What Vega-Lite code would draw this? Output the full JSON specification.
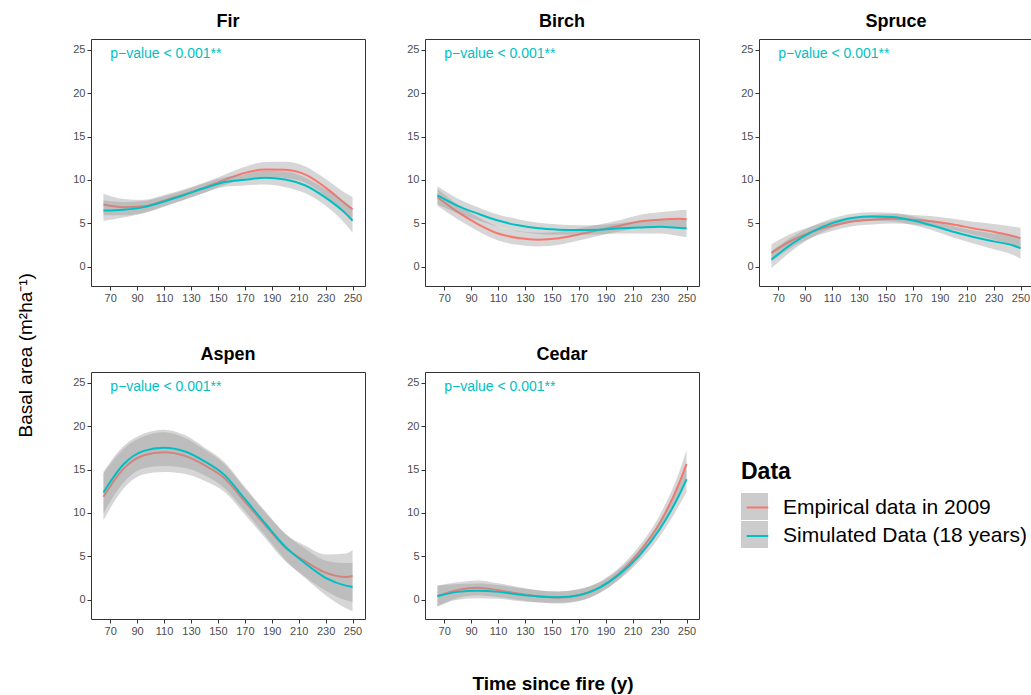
{
  "$schema": "https://vega.github.io/schema/vega-lite/v6.json",
  "padding": {"left": 17, "top": 12, "right": 0, "bottom": 5},
  "data": {"values": [
    {"Species":"Fir","Data":"Empirical data in 2009","Time":65,"Fit":7.15,"Lower":5.9,"Upper":8.4},
    {"Species":"Fir","Data":"Empirical data in 2009","Time":80,"Fit":6.85,"Lower":5.9,"Upper":7.8},
    {"Species":"Fir","Data":"Empirical data in 2009","Time":95,"Fit":6.95,"Lower":6.2,"Upper":7.7},
    {"Species":"Fir","Data":"Empirical data in 2009","Time":110,"Fit":7.6,"Lower":6.95,"Upper":8.25},
    {"Species":"Fir","Data":"Empirical data in 2009","Time":125,"Fit":8.3,"Lower":7.7,"Upper":8.9},
    {"Species":"Fir","Data":"Empirical data in 2009","Time":140,"Fit":9.1,"Lower":8.5,"Upper":9.7},
    {"Species":"Fir","Data":"Empirical data in 2009","Time":155,"Fit":10.0,"Lower":9.4,"Upper":10.6},
    {"Species":"Fir","Data":"Empirical data in 2009","Time":170,"Fit":10.8,"Lower":10.1,"Upper":11.5},
    {"Species":"Fir","Data":"Empirical data in 2009","Time":185,"Fit":11.2,"Lower":10.35,"Upper":12.05},
    {"Species":"Fir","Data":"Empirical data in 2009","Time":200,"Fit":11.15,"Lower":10.2,"Upper":12.1},
    {"Species":"Fir","Data":"Empirical data in 2009","Time":215,"Fit":10.6,"Lower":9.65,"Upper":11.55},
    {"Species":"Fir","Data":"Empirical data in 2009","Time":230,"Fit":9.1,"Lower":8.1,"Upper":10.1},
    {"Species":"Fir","Data":"Empirical data in 2009","Time":245,"Fit":7.2,"Lower":5.95,"Upper":8.45},
    {"Species":"Fir","Data":"Empirical data in 2009","Time":250,"Fit":6.6,"Lower":5.2,"Upper":8.0},
    {"Species":"Fir","Data":"Simulated Data (18 years)","Time":65,"Fit":6.45,"Lower":5.25,"Upper":7.65},
    {"Species":"Fir","Data":"Simulated Data (18 years)","Time":80,"Fit":6.55,"Lower":5.65,"Upper":7.45},
    {"Species":"Fir","Data":"Simulated Data (18 years)","Time":95,"Fit":6.85,"Lower":6.15,"Upper":7.55},
    {"Species":"Fir","Data":"Simulated Data (18 years)","Time":110,"Fit":7.5,"Lower":6.9,"Upper":8.1},
    {"Species":"Fir","Data":"Simulated Data (18 years)","Time":125,"Fit":8.25,"Lower":7.7,"Upper":8.8},
    {"Species":"Fir","Data":"Simulated Data (18 years)","Time":140,"Fit":9.05,"Lower":8.5,"Upper":9.6},
    {"Species":"Fir","Data":"Simulated Data (18 years)","Time":155,"Fit":9.75,"Lower":9.2,"Upper":10.3},
    {"Species":"Fir","Data":"Simulated Data (18 years)","Time":170,"Fit":10.0,"Lower":9.35,"Upper":10.65},
    {"Species":"Fir","Data":"Simulated Data (18 years)","Time":185,"Fit":10.25,"Lower":9.45,"Upper":11.05},
    {"Species":"Fir","Data":"Simulated Data (18 years)","Time":200,"Fit":10.05,"Lower":9.15,"Upper":10.95},
    {"Species":"Fir","Data":"Simulated Data (18 years)","Time":215,"Fit":9.35,"Lower":8.45,"Upper":10.25},
    {"Species":"Fir","Data":"Simulated Data (18 years)","Time":230,"Fit":7.95,"Lower":7.0,"Upper":8.9},
    {"Species":"Fir","Data":"Simulated Data (18 years)","Time":245,"Fit":6.1,"Lower":4.85,"Upper":7.35},
    {"Species":"Fir","Data":"Simulated Data (18 years)","Time":250,"Fit":5.3,"Lower":3.9,"Upper":6.7},

    {"Species":"Birch","Data":"Empirical data in 2009","Time":65,"Fit":8.0,"Lower":7.05,"Upper":8.95},
    {"Species":"Birch","Data":"Empirical data in 2009","Time":80,"Fit":6.3,"Lower":5.45,"Upper":7.15},
    {"Species":"Birch","Data":"Empirical data in 2009","Time":95,"Fit":4.9,"Lower":4.1,"Upper":5.7},
    {"Species":"Birch","Data":"Empirical data in 2009","Time":110,"Fit":3.8,"Lower":3.0,"Upper":4.6},
    {"Species":"Birch","Data":"Empirical data in 2009","Time":125,"Fit":3.3,"Lower":2.5,"Upper":4.1},
    {"Species":"Birch","Data":"Empirical data in 2009","Time":140,"Fit":3.1,"Lower":2.3,"Upper":3.9},
    {"Species":"Birch","Data":"Empirical data in 2009","Time":155,"Fit":3.25,"Lower":2.5,"Upper":4.0},
    {"Species":"Birch","Data":"Empirical data in 2009","Time":170,"Fit":3.7,"Lower":3.0,"Upper":4.4},
    {"Species":"Birch","Data":"Empirical data in 2009","Time":185,"Fit":4.2,"Lower":3.55,"Upper":4.85},
    {"Species":"Birch","Data":"Empirical data in 2009","Time":200,"Fit":4.7,"Lower":4.05,"Upper":5.35},
    {"Species":"Birch","Data":"Empirical data in 2009","Time":215,"Fit":5.2,"Lower":4.45,"Upper":5.95},
    {"Species":"Birch","Data":"Empirical data in 2009","Time":230,"Fit":5.4,"Lower":4.55,"Upper":6.25},
    {"Species":"Birch","Data":"Empirical data in 2009","Time":245,"Fit":5.5,"Lower":4.5,"Upper":6.5},
    {"Species":"Birch","Data":"Empirical data in 2009","Time":250,"Fit":5.45,"Lower":4.35,"Upper":6.55},
    {"Species":"Birch","Data":"Simulated Data (18 years)","Time":65,"Fit":8.2,"Lower":7.15,"Upper":9.25},
    {"Species":"Birch","Data":"Simulated Data (18 years)","Time":80,"Fit":7.0,"Lower":6.15,"Upper":7.85},
    {"Species":"Birch","Data":"Simulated Data (18 years)","Time":95,"Fit":6.1,"Lower":5.35,"Upper":6.85},
    {"Species":"Birch","Data":"Simulated Data (18 years)","Time":110,"Fit":5.3,"Lower":4.6,"Upper":6.0},
    {"Species":"Birch","Data":"Simulated Data (18 years)","Time":125,"Fit":4.75,"Lower":4.05,"Upper":5.45},
    {"Species":"Birch","Data":"Simulated Data (18 years)","Time":140,"Fit":4.4,"Lower":3.75,"Upper":5.05},
    {"Species":"Birch","Data":"Simulated Data (18 years)","Time":155,"Fit":4.25,"Lower":3.65,"Upper":4.85},
    {"Species":"Birch","Data":"Simulated Data (18 years)","Time":170,"Fit":4.2,"Lower":3.65,"Upper":4.75},
    {"Species":"Birch","Data":"Simulated Data (18 years)","Time":185,"Fit":4.25,"Lower":3.7,"Upper":4.8},
    {"Species":"Birch","Data":"Simulated Data (18 years)","Time":200,"Fit":4.4,"Lower":3.8,"Upper":5.0},
    {"Species":"Birch","Data":"Simulated Data (18 years)","Time":215,"Fit":4.5,"Lower":3.8,"Upper":5.2},
    {"Species":"Birch","Data":"Simulated Data (18 years)","Time":230,"Fit":4.6,"Lower":3.8,"Upper":5.4},
    {"Species":"Birch","Data":"Simulated Data (18 years)","Time":245,"Fit":4.45,"Lower":3.5,"Upper":5.4},
    {"Species":"Birch","Data":"Simulated Data (18 years)","Time":250,"Fit":4.4,"Lower":3.4,"Upper":5.4},

    {"Species":"Spruce","Data":"Empirical data in 2009","Time":65,"Fit":1.58,"Lower":0.58,"Upper":2.58},
    {"Species":"Spruce","Data":"Empirical data in 2009","Time":80,"Fit":3.0,"Lower":2.2,"Upper":3.8},
    {"Species":"Spruce","Data":"Empirical data in 2009","Time":95,"Fit":4.0,"Lower":3.35,"Upper":4.65},
    {"Species":"Spruce","Data":"Empirical data in 2009","Time":110,"Fit":4.7,"Lower":4.1,"Upper":5.3},
    {"Species":"Spruce","Data":"Empirical data in 2009","Time":125,"Fit":5.2,"Lower":4.65,"Upper":5.75},
    {"Species":"Spruce","Data":"Empirical data in 2009","Time":140,"Fit":5.4,"Lower":4.85,"Upper":5.95},
    {"Species":"Spruce","Data":"Empirical data in 2009","Time":155,"Fit":5.5,"Lower":4.95,"Upper":6.05},
    {"Species":"Spruce","Data":"Empirical data in 2009","Time":170,"Fit":5.4,"Lower":4.85,"Upper":5.95},
    {"Species":"Spruce","Data":"Empirical data in 2009","Time":185,"Fit":5.2,"Lower":4.6,"Upper":5.8},
    {"Species":"Spruce","Data":"Empirical data in 2009","Time":200,"Fit":4.85,"Lower":4.2,"Upper":5.5},
    {"Species":"Spruce","Data":"Empirical data in 2009","Time":215,"Fit":4.4,"Lower":3.65,"Upper":5.15},
    {"Species":"Spruce","Data":"Empirical data in 2009","Time":230,"Fit":4.0,"Lower":3.1,"Upper":4.9},
    {"Species":"Spruce","Data":"Empirical data in 2009","Time":245,"Fit":3.5,"Lower":2.4,"Upper":4.6},
    {"Species":"Spruce","Data":"Empirical data in 2009","Time":250,"Fit":3.27,"Lower":2.07,"Upper":4.47},
    {"Species":"Spruce","Data":"Simulated Data (18 years)","Time":65,"Fit":0.8,"Lower":-0.2,"Upper":1.8},
    {"Species":"Spruce","Data":"Simulated Data (18 years)","Time":80,"Fit":2.6,"Lower":1.8,"Upper":3.4},
    {"Species":"Spruce","Data":"Simulated Data (18 years)","Time":95,"Fit":4.0,"Lower":3.35,"Upper":4.65},
    {"Species":"Spruce","Data":"Simulated Data (18 years)","Time":110,"Fit":5.0,"Lower":4.45,"Upper":5.55},
    {"Species":"Spruce","Data":"Simulated Data (18 years)","Time":125,"Fit":5.6,"Lower":5.1,"Upper":6.1},
    {"Species":"Spruce","Data":"Simulated Data (18 years)","Time":140,"Fit":5.77,"Lower":5.27,"Upper":6.27},
    {"Species":"Spruce","Data":"Simulated Data (18 years)","Time":155,"Fit":5.7,"Lower":5.2,"Upper":6.2},
    {"Species":"Spruce","Data":"Simulated Data (18 years)","Time":170,"Fit":5.3,"Lower":4.8,"Upper":5.8},
    {"Species":"Spruce","Data":"Simulated Data (18 years)","Time":185,"Fit":4.7,"Lower":4.15,"Upper":5.25},
    {"Species":"Spruce","Data":"Simulated Data (18 years)","Time":200,"Fit":4.0,"Lower":3.35,"Upper":4.65},
    {"Species":"Spruce","Data":"Simulated Data (18 years)","Time":215,"Fit":3.4,"Lower":2.65,"Upper":4.15},
    {"Species":"Spruce","Data":"Simulated Data (18 years)","Time":230,"Fit":2.9,"Lower":2.0,"Upper":3.8},
    {"Species":"Spruce","Data":"Simulated Data (18 years)","Time":245,"Fit":2.4,"Lower":1.3,"Upper":3.5},
    {"Species":"Spruce","Data":"Simulated Data (18 years)","Time":250,"Fit":2.1,"Lower":0.9,"Upper":3.3},

    {"Species":"Aspen","Data":"Empirical data in 2009","Time":65,"Fit":11.85,"Lower":9.15,"Upper":14.55},
    {"Species":"Aspen","Data":"Empirical data in 2009","Time":80,"Fit":15.1,"Lower":12.8,"Upper":17.4},
    {"Species":"Aspen","Data":"Empirical data in 2009","Time":95,"Fit":16.65,"Lower":14.45,"Upper":18.85},
    {"Species":"Aspen","Data":"Empirical data in 2009","Time":110,"Fit":17.0,"Lower":14.7,"Upper":19.3},
    {"Species":"Aspen","Data":"Empirical data in 2009","Time":125,"Fit":16.6,"Lower":14.5,"Upper":18.7},
    {"Species":"Aspen","Data":"Empirical data in 2009","Time":140,"Fit":15.5,"Lower":13.7,"Upper":17.3},
    {"Species":"Aspen","Data":"Empirical data in 2009","Time":155,"Fit":14.0,"Lower":12.4,"Upper":15.6},
    {"Species":"Aspen","Data":"Empirical data in 2009","Time":170,"Fit":11.3,"Lower":9.8,"Upper":12.8},
    {"Species":"Aspen","Data":"Empirical data in 2009","Time":185,"Fit":8.6,"Lower":7.1,"Upper":10.1},
    {"Species":"Aspen","Data":"Empirical data in 2009","Time":200,"Fit":6.0,"Lower":4.4,"Upper":7.6},
    {"Species":"Aspen","Data":"Empirical data in 2009","Time":215,"Fit":4.4,"Lower":2.6,"Upper":6.2},
    {"Species":"Aspen","Data":"Empirical data in 2009","Time":230,"Fit":3.1,"Lower":1.0,"Upper":5.2},
    {"Species":"Aspen","Data":"Empirical data in 2009","Time":245,"Fit":2.6,"Lower":-0.1,"Upper":5.3},
    {"Species":"Aspen","Data":"Empirical data in 2009","Time":250,"Fit":2.7,"Lower":-0.3,"Upper":5.7},
    {"Species":"Aspen","Data":"Simulated Data (18 years)","Time":65,"Fit":12.35,"Lower":9.95,"Upper":14.75},
    {"Species":"Aspen","Data":"Simulated Data (18 years)","Time":80,"Fit":15.6,"Lower":13.5,"Upper":17.7},
    {"Species":"Aspen","Data":"Simulated Data (18 years)","Time":95,"Fit":17.15,"Lower":15.15,"Upper":19.15},
    {"Species":"Aspen","Data":"Simulated Data (18 years)","Time":110,"Fit":17.5,"Lower":15.4,"Upper":19.6},
    {"Species":"Aspen","Data":"Simulated Data (18 years)","Time":125,"Fit":17.1,"Lower":15.2,"Upper":19.0},
    {"Species":"Aspen","Data":"Simulated Data (18 years)","Time":140,"Fit":15.95,"Lower":14.35,"Upper":17.55},
    {"Species":"Aspen","Data":"Simulated Data (18 years)","Time":155,"Fit":14.35,"Lower":12.85,"Upper":15.85},
    {"Species":"Aspen","Data":"Simulated Data (18 years)","Time":170,"Fit":11.6,"Lower":10.2,"Upper":13.0},
    {"Species":"Aspen","Data":"Simulated Data (18 years)","Time":185,"Fit":8.8,"Lower":7.4,"Upper":10.2},
    {"Species":"Aspen","Data":"Simulated Data (18 years)","Time":200,"Fit":6.1,"Lower":4.6,"Upper":7.6},
    {"Species":"Aspen","Data":"Simulated Data (18 years)","Time":215,"Fit":4.15,"Lower":2.45,"Upper":5.85},
    {"Species":"Aspen","Data":"Simulated Data (18 years)","Time":230,"Fit":2.5,"Lower":0.5,"Upper":4.5},
    {"Species":"Aspen","Data":"Simulated Data (18 years)","Time":245,"Fit":1.6,"Lower":-1.0,"Upper":4.2},
    {"Species":"Aspen","Data":"Simulated Data (18 years)","Time":250,"Fit":1.45,"Lower":-1.35,"Upper":4.25},

    {"Species":"Cedar","Data":"Empirical data in 2009","Time":65,"Fit":0.42,"Lower":-0.78,"Upper":1.62},
    {"Species":"Cedar","Data":"Empirical data in 2009","Time":80,"Fit":1.08,"Lower":0.18,"Upper":1.98},
    {"Species":"Cedar","Data":"Empirical data in 2009","Time":95,"Fit":1.35,"Lower":0.5,"Upper":2.2},
    {"Species":"Cedar","Data":"Empirical data in 2009","Time":110,"Fit":1.08,"Lower":0.28,"Upper":1.88},
    {"Species":"Cedar","Data":"Empirical data in 2009","Time":125,"Fit":0.7,"Lower":-0.05,"Upper":1.45},
    {"Species":"Cedar","Data":"Empirical data in 2009","Time":140,"Fit":0.38,"Lower":-0.32,"Upper":1.08},
    {"Species":"Cedar","Data":"Empirical data in 2009","Time":155,"Fit":0.23,"Lower":-0.47,"Upper":0.93},
    {"Species":"Cedar","Data":"Empirical data in 2009","Time":170,"Fit":0.5,"Lower":-0.2,"Upper":1.2},
    {"Species":"Cedar","Data":"Empirical data in 2009","Time":185,"Fit":1.35,"Lower":0.7,"Upper":2.0},
    {"Species":"Cedar","Data":"Empirical data in 2009","Time":200,"Fit":3.0,"Lower":2.35,"Upper":3.65},
    {"Species":"Cedar","Data":"Empirical data in 2009","Time":215,"Fit":5.5,"Lower":4.8,"Upper":6.2},
    {"Species":"Cedar","Data":"Empirical data in 2009","Time":230,"Fit":8.8,"Lower":7.9,"Upper":9.7},
    {"Species":"Cedar","Data":"Empirical data in 2009","Time":245,"Fit":13.6,"Lower":12.3,"Upper":14.9},
    {"Species":"Cedar","Data":"Empirical data in 2009","Time":250,"Fit":15.65,"Lower":14.05,"Upper":17.25},
    {"Species":"Cedar","Data":"Simulated Data (18 years)","Time":65,"Fit":0.38,"Lower":-0.82,"Upper":1.58},
    {"Species":"Cedar","Data":"Simulated Data (18 years)","Time":80,"Fit":0.88,"Lower":-0.02,"Upper":1.78},
    {"Species":"Cedar","Data":"Simulated Data (18 years)","Time":95,"Fit":1.0,"Lower":0.15,"Upper":1.85},
    {"Species":"Cedar","Data":"Simulated Data (18 years)","Time":110,"Fit":0.88,"Lower":0.08,"Upper":1.68},
    {"Species":"Cedar","Data":"Simulated Data (18 years)","Time":125,"Fit":0.58,"Lower":-0.17,"Upper":1.33},
    {"Species":"Cedar","Data":"Simulated Data (18 years)","Time":140,"Fit":0.35,"Lower":-0.35,"Upper":1.05},
    {"Species":"Cedar","Data":"Simulated Data (18 years)","Time":155,"Fit":0.27,"Lower":-0.38,"Upper":0.92},
    {"Species":"Cedar","Data":"Simulated Data (18 years)","Time":170,"Fit":0.5,"Lower":-0.15,"Upper":1.15},
    {"Species":"Cedar","Data":"Simulated Data (18 years)","Time":185,"Fit":1.35,"Lower":0.75,"Upper":1.95},
    {"Species":"Cedar","Data":"Simulated Data (18 years)","Time":200,"Fit":2.9,"Lower":2.3,"Upper":3.5},
    {"Species":"Cedar","Data":"Simulated Data (18 years)","Time":215,"Fit":5.1,"Lower":4.45,"Upper":5.75},
    {"Species":"Cedar","Data":"Simulated Data (18 years)","Time":230,"Fit":8.1,"Lower":7.25,"Upper":8.95},
    {"Species":"Cedar","Data":"Simulated Data (18 years)","Time":245,"Fit":12.2,"Lower":11.0,"Upper":13.4},
    {"Species":"Cedar","Data":"Simulated Data (18 years)","Time":250,"Fit":13.9,"Lower":12.4,"Upper":15.4},

    {"Species":"Fir","Label":"p−value < 0.001**","Time":70,"Fit":25},
    {"Species":"Birch","Label":"p−value < 0.001**","Time":70,"Fit":25},
    {"Species":"Spruce","Label":"p−value < 0.001**","Time":70,"Fit":25},
    {"Species":"Aspen","Label":"p−value < 0.001**","Time":70,"Fit":25},
    {"Species":"Cedar","Label":"p−value < 0.001**","Time":70,"Fit":25}
  ]},
  "facet": {
    "field": "Species", "type": "nominal",
    "sort": ["Fir", "Birch", "Spruce", "Aspen", "Cedar"],
    "title": "Time since fire (y)",
    "header": {
      "titleOrient": "bottom", "titleFontSize": 19, "titleFontWeight": "bold", "titleColor": "black", "titlePadding": 56,
      "labelOrient": "top", "labelFontSize": 18, "labelFontWeight": "bold", "labelColor": "black", "labelPadding": 8
    }
  },
  "columns": 3,
  "bounds": "flush",
  "spacing": {"column": 60, "row": 86},
  "resolve": {"axis": {"x": "independent", "y": "independent"}},
  "title": {"text": "Basal area (m²ha⁻¹)", "orient": "left", "anchor": "middle", "fontSize": 19, "fontWeight": "normal", "color": "black", "offset": 36, "dx": -2},
  "spec": {
    "width": 274,
    "height": 247,
    "encoding": {
      "x": {"field": "Time", "type": "quantitative", "title": null,
            "scale": {"domain": [55.75, 259.25], "nice": false, "zero": false},
            "axis": {"title": null, "values": [70, 90, 110, 130, 150, 170, 190, 210, 230, 250]}}
    },
    "layer": [
      {
        "transform": [{"filter": "datum.Data == 'Empirical data in 2009'"}],
        "mark": {"type": "area", "interpolate": "monotone", "fillOpacity": 0.4},
        "encoding": {
          "y": {"field": "Lower", "type": "quantitative", "title": null,
                "scale": {"domain": [-2.25, 26.25], "nice": false, "zero": false},
                "axis": {"title": null, "values": [0, 5, 10, 15, 20, 25]}},
          "y2": {"field": "Upper"},
          "fill": {"field": "Data", "type": "nominal",
                   "scale": {"range": ["#999999", "#999999"]},
                   "legend": {"orient": "none", "legendX": 650, "legendY": 422, "title": "Data",
                              "titleFontSize": 23, "titleFontWeight": "bold", "titleColor": "black", "titlePadding": 9,
                              "symbolType": "square", "symbolSize": 729, "symbolStrokeWidth": 0, "symbolOpacity": 0.5, "rowPadding": 1,
                              "labelExpr": "''", "labelFontSize": 19}}
        }
      },
      {
        "transform": [{"filter": "datum.Data == 'Empirical data in 2009'"}],
        "mark": {"type": "line", "interpolate": "monotone", "strokeWidth": 2},
        "encoding": {
          "y": {"field": "Fit", "type": "quantitative", "title": null, "axis": {"title": null, "values": [0, 5, 10, 15, 20, 25]}},
          "color": {"field": "Data", "type": "nominal",
                    "scale": {"domain": ["Empirical data in 2009", "Simulated Data (18 years)"], "range": ["#F8766D", "#00BFC4"]},
                    "legend": {"orient": "none", "legendX": 652, "legendY": 454, "title": null,
                               "symbolType": "M-0.8,0H0.8", "symbolSize": 729, "symbolStrokeWidth": 2, "rowPadding": 3.5,
                               "labelFontSize": 21, "labelColor": "black", "labelOffset": 11, "labelLimit": 400}}
        }
      },
      {
        "transform": [{"filter": "datum.Data == 'Simulated Data (18 years)'"}],
        "mark": {"type": "area", "interpolate": "monotone", "fillOpacity": 0.4},
        "encoding": {
          "y": {"field": "Lower", "type": "quantitative", "title": null, "axis": {"title": null, "values": [0, 5, 10, 15, 20, 25]}},
          "y2": {"field": "Upper"},
          "fill": {"field": "Data", "type": "nominal"}
        }
      },
      {
        "transform": [{"filter": "datum.Data == 'Simulated Data (18 years)'"}],
        "mark": {"type": "line", "interpolate": "monotone", "strokeWidth": 2},
        "encoding": {
          "y": {"field": "Fit", "type": "quantitative", "title": null, "axis": {"title": null, "values": [0, 5, 10, 15, 20, 25]}},
          "color": {"field": "Data", "type": "nominal"}
        }
      },
      {
        "transform": [{"filter": "isValid(datum.Label)"}],
        "mark": {"type": "text", "align": "left", "baseline": "middle", "fontSize": 14, "dy": 4, "color": "#00BFC4"},
        "encoding": {
          "y": {"field": "Fit", "type": "quantitative", "title": null, "axis": {"title": null, "values": [0, 5, 10, 15, 20, 25]}},
          "text": {"field": "Label", "type": "nominal"}
        }
      }
    ]
  },
  "config": {
    "font": "Liberation Sans",
    "view": {"stroke": "#333333", "strokeWidth": 1},
    "axis": {"grid": false, "domain": false, "labelFontSize": 11, "labelColor": "#4D4D4D", "tickColor": "#333333", "tickSize": 4, "labelPadding": 2},
    "legend": {"labelFont": "Liberation Sans", "titleFont": "Liberation Sans"}
  }
}
